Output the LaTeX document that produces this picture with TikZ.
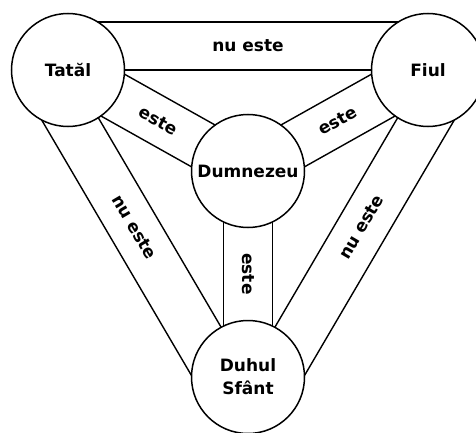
\documentclass[tikz,border=0pt]{standalone}
\usepackage{fontspec}
\setmainfont{DejaVu Sans}
\usetikzlibrary{calc,backgrounds}
\begin{document}
\begin{tikzpicture}[x=1pt,y=1pt,
  person/.style={circle,draw,line width=1.5pt,fill=white,minimum size=113pt,inner sep=0pt,
    font=\bfseries\fontsize{17}{23}\selectfont,align=center},
  band/.style={line width=1.4pt},
  lbl/.style={font=\bfseries\fontsize{17}{20}\selectfont,inner sep=0pt}]
\useasboundingbox (0,0) rectangle (476,432);
\node[person] (T) at (68,362) {Tatăl};
\node[person] (F) at (428,362) {Fiul};
\node[person] (D) at (248,261) {Dumnezeu};
\node[person] (S) at (248,55) {Duhul\\Sfânt};
\begin{scope}[on background layer]
  % Tatal - Fiul
  \draw[band] ($(T)!48pt!90:(F)$) -- ($(F)!48pt!-90:(T)$);
  \draw[band] (T.center) -- (F.center);
  % Tatal - Dumnezeu
  \draw[band] ($(T)!24pt!90:(D)$) -- ($(D)!24pt!-90:(T)$);
  \draw[band] ($(T)!24pt!-90:(D)$) -- ($(D)!24pt!90:(T)$);
  % Fiul - Dumnezeu
  \draw[band] ($(F)!24pt!90:(D)$) -- ($(D)!24pt!-90:(F)$);
  \draw[band] ($(F)!24pt!-90:(D)$) -- ($(D)!24pt!90:(F)$);
  % Dumnezeu - Duhul
  \draw[band] ($(D)!24.5pt!90:(S)$) -- ($(S)!24.5pt!-90:(D)$);
  \draw[band] ($(D)!24.5pt!-90:(S)$) -- ($(S)!24.5pt!90:(D)$);
  % Tatal - Duhul
  \draw[band] ($(T)!48pt!-90:(S)$) -- ($(S)!48pt!90:(T)$);
  \draw[band] ($(T)!2pt!90:(S)$) -- ($(S)!2pt!-90:(T)$);
  % Fiul - Duhul
  \draw[band] ($(F)!48pt!90:(S)$) -- ($(S)!48pt!-90:(F)$);
  \draw[band] ($(F)!2pt!-90:(S)$) -- ($(S)!2pt!90:(F)$);
\end{scope}
\node[lbl] (l1) at ($(T)!0.5!(F)+(0,24)$) {nu este};
\path (T.center) -- (D.center) node[lbl,midway,sloped] (l2) {este};
\path (F.center) -- (D.center) node[lbl,midway,sloped] (l3) {este};
\node[lbl,rotate=-90] (l4) at ($(D)!0.5!(S)$) {este};
\path ($(T)!22pt!-90:(S)$) -- ($(S)!22pt!90:(T)$) node[lbl,pos=0.475,sloped] (l5) {nu este};
\path ($(F)!22pt!90:(S)$) -- ($(S)!22pt!-90:(F)$) node[lbl,pos=0.475,sloped] (l6) {nu este};
\end{tikzpicture}
\end{document}
